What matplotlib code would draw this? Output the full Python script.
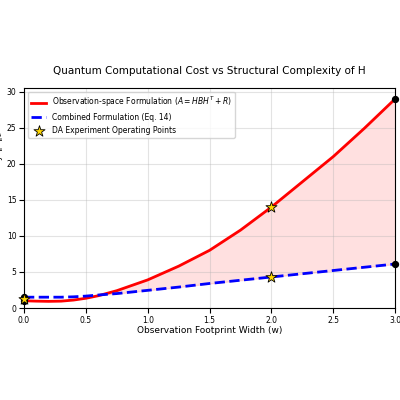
import numpy as np
import matplotlib
matplotlib.use("Agg")
import matplotlib.pyplot as plt

# data
w = [0.0, 0.1, 0.2, 0.3, 0.4, 0.5, 0.6, 0.75, 1.0, 1.25, 1.5, 1.75, 2.0, 2.25, 2.5, 2.75, 3.0]
obs_cost = [1.0, 0.95, 0.92, 0.95, 1.1, 1.35, 1.7, 2.4, 3.9, 5.8, 8.0, 10.8, 14.0, 17.5, 21.0, 24.9, 29.0]
comb_cost = [1.5, 1.5, 1.5, 1.5, 1.55, 1.65, 1.8, 2.0, 2.45, 2.9, 3.4, 3.85, 4.3, 4.75, 5.2, 5.65, 6.1]
star_w = [0.0, 2.0, 2.0]
star_cost = [1.25, 14.0, 4.3]
end_w = [0.0, 0.0, 3.0, 3.0]
end_cost = [1.0, 1.5, 29.0, 6.1]

fig, ax = plt.subplots(figsize=(4, 4), dpi=100)
ax.fill_between(w, obs_cost, comb_cost, where=np.array(obs_cost) >= np.array(comb_cost),
                color="red", alpha=0.12, interpolate=True)
ax.plot(w, obs_cost, color="red", lw=2, label=r"Observation-space Formulation ($A = HBH^T + R$)")
ax.plot(w, comb_cost, color="blue", lw=2, ls="--", label="Combined Formulation (Eq. 14)")
ax.scatter(end_w, end_cost, color="black", s=18, zorder=4, clip_on=False)
ax.scatter(star_w, star_cost, marker="*", s=70, color="gold", edgecolor="black", lw=0.6,
           zorder=5, clip_on=False, label="DA Experiment Operating Points")
ax.set_xlim(0, 3)
ax.set_ylim(0, 30.5)
ax.set_xlabel("Observation Footprint Width (w)", fontsize=6.5, labelpad=1)
ax.set_ylabel(r"Sub-normalization Proxy $\|A\|_2$", fontsize=6.5, labelpad=1)
ax.set_title("Quantum Computational Cost vs Structural Complexity of H", fontsize=7.5, pad=10)
ax.tick_params(labelsize=5.5, pad=2)
ax.grid(True, alpha=0.35)
ax.legend(fontsize=5.5, loc="upper left")
fig.subplots_adjust(left=0.06, right=0.988, top=0.78, bottom=0.23)
fig.savefig("out.png", dpi=100)
